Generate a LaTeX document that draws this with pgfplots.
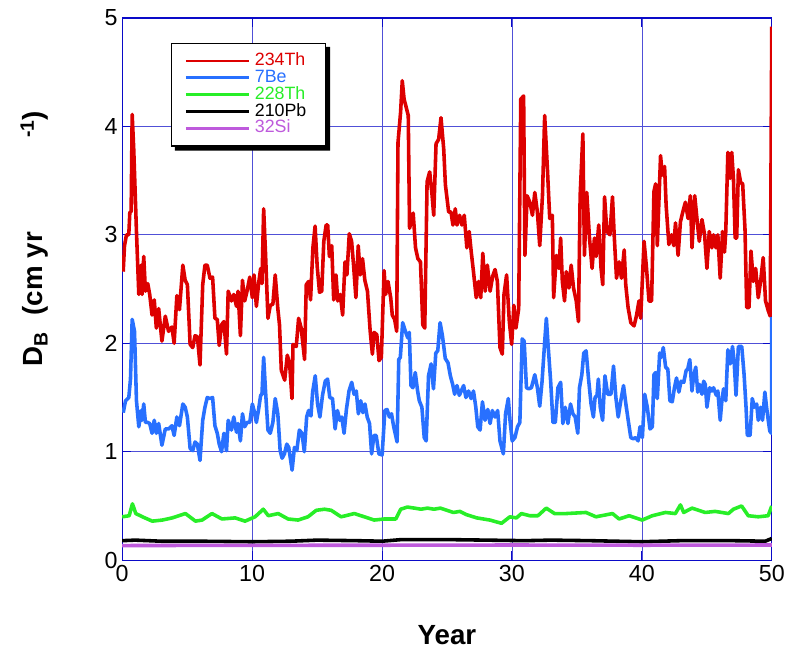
\documentclass[border=0pt]{standalone}
\usepackage{fontspec}
\setmainfont{Liberation Sans}
\usepackage{pgfplots}
\pgfplotsset{compat=1.18}
\usetikzlibrary{calc}

\definecolor{thred}{RGB}{221,0,0}
\definecolor{beblue}{RGB}{40,112,255}
\definecolor{thgreen}{RGB}{40,238,40}
\definecolor{sipurple}{RGB}{190,90,220}
\definecolor{gridblue}{RGB}{80,80,215}
\definecolor{frameblue}{RGB}{10,10,200}

\newcommand{\lgd}[2]{\makebox[56bp][l]{\textcolor{#1}{#2}}}

\begin{document}
\begin{tikzpicture}
\begin{axis}[
    scale only axis,
    width=654bp, height=546bp,
    xmin=0, xmax=50, ymin=0, ymax=5,
    xtick={0,10,20,30,40,50},
    ytick={0,1,2,3,4,5},
    grid=major,
    grid style={gridblue, line width=0.7bp},
    axis line style={frameblue, line width=1.3bp},
    tick style={frameblue, line width=1bp},
    major tick length=9bp,
    tick align=inside,
    /pgf/number format/assume math mode=true,
    ticklabel style={font=\fontsize{23.5}{26}\selectfont},
    xticklabel style={yshift=-2bp},
    yticklabel style={xshift=-1bp},
    xlabel={Year},
    ylabel={D\textsubscript{B}\hspace{0.62em}(cm yr\hspace{3.4em}\textsuperscript{-1})},
    xlabel style={font=\fontsize{28}{30}\selectfont\bfseries, at={(axis description cs:0.5,-0.139)}, anchor=center},
    ylabel style={font=\fontsize{28}{30}\selectfont\bfseries, at={(axis description cs:-0.135,0.356)}, anchor=west, inner sep=0pt},
    legend style={name=lgdbox, at={(axis description cs:0.075,0.954)}, anchor=north west,
        draw=black, line width=1.5bp, fill=white,
        font=\fontsize{18}{18}\selectfont, row sep=0bp, column sep=3bp,
        nodes={inner ysep=0.5bp, text height=12.5bp, text depth=3.5bp},
        inner xsep=13bp, inner ysep=9bp},
    legend cell align=left,
    legend image code/.code={\draw[#1, line width=2.8bp] (0bp,0bp) -- (63bp,0bp);},
    every axis plot/.append style={line width=3.6bp, line join=round},
]

\addplot[thred] coordinates {
(0.08,2.66)(0.18,2.90)(0.33,3.00)(0.51,3.00)(0.59,3.21)(0.69,3.21)(0.77,4.11)(0.89,3.79)
(1.10,3.03)(1.28,2.45)(1.46,2.72)(1.53,2.45)(1.66,2.80)(1.79,2.48)(1.97,2.55)(2.12,2.45)
(2.30,2.26)(2.47,2.40)(2.63,2.14)(2.81,2.32)(3.06,2.02)(3.32,2.25)(3.57,2.11)(3.83,2.15)
(4.00,2.00)(4.21,2.44)(4.41,2.31)(4.67,2.72)(4.85,2.58)(5.02,2.54)(5.23,1.99)(5.43,1.96)
(5.61,2.07)(5.79,2.06)(5.99,1.80)(6.20,2.54)(6.37,2.72)(6.55,2.72)(6.76,2.60)(6.96,2.61)
(7.14,2.23)(7.32,2.22)(7.47,1.98)(7.65,2.17)(7.83,2.20)(8.03,1.90)(8.16,2.48)(8.41,2.39)
(8.59,2.45)(8.80,2.34)(8.92,2.48)(9.10,2.07)(9.26,2.58)(9.43,2.39)(9.61,2.48)(9.82,2.61)
(10.02,2.42)(10.15,2.63)(10.33,2.34)(10.50,2.55)(10.66,2.69)(10.76,2.55)(10.89,3.24)(11.04,2.81)
(11.22,2.23)(11.40,2.35)(11.60,2.36)(11.78,2.63)(11.98,2.32)(12.11,2.17)(12.25,1.75)(12.51,1.66)
(12.71,1.89)(12.89,1.81)(13.07,1.49)(13.15,1.99)(13.40,1.97)(13.58,2.23)(13.78,2.14)(14.04,1.85)
(14.17,2.54)(14.35,2.57)(14.50,2.40)(14.68,2.88)(14.85,3.08)(15.01,2.71)(15.19,2.47)(15.36,2.48)
(15.52,2.94)(15.70,3.09)(15.82,3.09)(15.95,2.80)(16.13,2.90)(16.28,2.40)(16.46,2.63)(16.59,2.39)
(16.79,2.45)(16.97,2.26)(17.15,2.75)(17.30,2.63)(17.48,3.01)(17.66,2.94)(17.81,2.72)(17.99,2.42)
(18.17,2.90)(18.32,2.63)(18.50,2.78)(18.68,2.58)(18.88,2.48)(19.09,2.11)(19.26,1.90)(19.39,2.10)
(19.60,2.08)(19.77,1.84)(19.95,1.87)(20.16,2.67)(20.28,2.45)(20.46,2.57)(20.67,2.42)(20.79,2.26)
(20.97,2.22)(21.13,2.11)(21.23,3.85)(21.43,4.13)(21.56,4.42)(21.70,4.25)(21.81,4.20)(22.02,4.10)
(22.12,3.06)(22.40,3.20)(22.58,2.88)(22.76,2.78)(22.96,2.75)(23.14,2.17)(23.29,2.14)(23.47,3.49)
(23.67,3.58)(23.85,3.37)(23.98,3.18)(24.16,3.84)(24.36,3.88)(24.54,4.08)(24.75,3.79)(24.88,3.46)
(25.13,3.21)(25.31,3.21)(25.46,3.09)(25.64,3.24)(25.77,3.09)(25.97,3.18)(26.15,3.09)(26.33,3.18)
(26.53,2.88)(26.71,3.03)(26.87,2.84)(27.04,2.66)(27.25,2.42)(27.43,2.57)(27.60,2.42)(27.76,2.83)
(27.94,2.48)(28.11,2.72)(28.32,2.48)(28.52,2.62)(28.70,2.68)(28.88,2.57)(29.08,1.96)(29.26,1.90)
(29.39,2.45)(29.59,2.63)(29.80,2.20)(29.98,1.99)(30.15,2.35)(30.31,2.14)(30.52,2.32)(30.68,4.25)
(30.90,4.28)(31.00,2.81)(31.17,3.36)(31.38,3.30)(31.58,3.18)(31.76,3.39)(31.96,3.21)(32.14,2.90)
(32.35,3.36)(32.52,4.10)(32.73,3.61)(32.91,3.15)(33.11,3.18)(33.21,2.42)(33.42,2.81)(33.62,2.69)
(33.75,2.97)(33.88,2.57)(34.05,2.39)(34.18,2.66)(34.39,2.51)(34.56,2.72)(34.74,2.51)(34.95,2.39)
(35.12,2.20)(35.25,3.36)(35.46,3.93)(35.58,2.81)(35.76,3.39)(35.97,2.97)(36.17,2.69)(36.35,2.97)
(36.48,2.80)(36.68,3.09)(36.86,2.69)(36.99,2.54)(37.13,3.35)(37.31,3.03)(37.54,3.00)(37.74,3.35)
(37.87,3.00)(38.05,2.60)(38.25,2.75)(38.43,2.60)(38.64,2.86)(38.76,2.54)(38.94,2.33)(39.15,2.19)
(39.40,2.16)(39.58,2.25)(39.78,2.39)(39.91,2.23)(40.17,2.94)(40.34,2.72)(40.55,2.39)(40.75,2.39)
(40.93,3.40)(41.06,3.47)(41.19,2.90)(41.44,3.73)(41.57,3.55)(41.75,3.63)(41.87,3.27)(42.08,2.91)
(42.28,3.00)(42.46,2.90)(42.59,3.11)(42.79,2.81)(42.97,3.12)(43.15,3.21)(43.35,3.30)(43.56,3.15)
(43.73,3.36)(43.86,2.88)(44.07,3.36)(44.24,3.15)(44.42,2.94)(44.63,3.14)(44.83,3.00)(45.01,2.69)
(45.19,3.03)(45.39,2.88)(45.52,3.00)(45.70,2.88)(45.85,3.00)(46.03,2.60)(46.21,3.03)(46.36,2.84)
(46.46,3.03)(46.62,3.76)(46.79,3.52)(46.92,3.76)(47.05,3.52)(47.18,2.97)(47.30,2.97)(47.43,3.60)
(47.61,3.48)(47.76,3.47)(47.94,3.05)(48.07,2.33)(48.25,2.33)(48.40,2.85)(48.58,2.57)(48.76,2.69)
(48.96,2.42)(49.16,2.59)(49.34,2.79)(49.52,2.39)(49.73,2.30)(49.88,2.25)(50.00,4.92)
};
\addlegendentry{\lgd{thred}{234Th}}

\addplot[beblue] coordinates {
(0.08,1.36)(0.26,1.47)(0.51,1.50)(0.64,1.67)(0.77,2.22)(0.95,2.11)(1.10,1.47)(1.28,1.23)
(1.46,1.38)(1.53,1.29)(1.66,1.44)(1.79,1.27)(1.97,1.27)(2.12,1.26)(2.30,1.17)(2.47,1.29)
(2.63,1.17)(2.81,1.26)(3.06,1.06)(3.32,1.21)(3.57,1.21)(3.83,1.24)(4.00,1.15)(4.21,1.32)
(4.41,1.24)(4.67,1.44)(4.85,1.41)(5.02,1.32)(5.23,1.03)(5.43,1.01)(5.61,1.09)(5.79,1.07)
(5.99,0.92)(6.20,1.29)(6.37,1.41)(6.55,1.50)(6.76,1.49)(6.96,1.50)(7.14,1.24)(7.32,1.17)
(7.47,1.07)(7.65,1.00)(7.83,1.17)(8.03,1.01)(8.16,1.29)(8.41,1.20)(8.59,1.32)(8.80,1.18)
(8.92,1.26)(9.10,1.10)(9.26,1.35)(9.43,1.23)(9.61,1.27)(9.82,1.27)(10.02,1.44)(10.15,1.38)
(10.33,1.27)(10.50,1.39)(10.66,1.52)(10.76,1.53)(10.89,1.87)(11.04,1.55)(11.22,1.20)(11.40,1.17)
(11.60,1.27)(11.78,1.49)(11.98,1.35)(12.16,1.01)(12.31,0.94)(12.49,0.98)(12.67,1.07)(12.82,1.04)
(13.08,0.83)(13.26,1.04)(13.44,1.01)(13.64,1.20)(13.84,1.17)(14.02,1.00)(14.20,1.32)(14.35,1.38)
(14.53,1.33)(14.66,1.55)(14.86,1.70)(15.04,1.44)(15.22,1.32)(15.42,1.52)(15.63,1.65)(15.81,1.67)
(15.98,1.50)(16.19,1.49)(16.39,1.21)(16.57,1.38)(16.75,1.29)(16.90,1.32)(17.08,1.17)(17.26,1.39)
(17.46,1.56)(17.67,1.64)(17.85,1.53)(18.02,1.56)(18.18,1.35)(18.36,1.47)(18.53,1.36)(18.69,1.44)
(18.86,1.32)(19.04,1.26)(19.20,0.98)(19.38,1.15)(19.55,1.15)(19.76,0.98)(20.01,0.97)(20.22,1.38)
(20.39,1.39)(20.57,1.32)(20.73,1.35)(20.90,1.23)(21.16,1.09)(21.29,1.85)(21.41,1.87)(21.59,2.19)
(21.80,2.11)(21.98,2.05)(22.10,2.10)(22.23,1.61)(22.38,1.59)(22.56,1.73)(22.74,1.56)(22.87,1.47)
(23.07,1.41)(23.25,1.13)(23.40,1.10)(23.58,1.70)(23.78,1.81)(23.96,1.58)(24.14,1.91)(24.29,1.93)
(24.47,2.19)(24.65,2.07)(24.87,1.86)(25.08,1.82)(25.26,1.70)(25.44,1.62)(25.59,1.53)(25.77,1.61)
(25.95,1.52)(26.10,1.56)(26.28,1.61)(26.46,1.50)(26.66,1.56)(26.86,1.49)(27.04,1.56)(27.22,1.41)
(27.37,1.23)(27.55,1.20)(27.73,1.46)(27.93,1.29)(28.14,1.39)(28.32,1.26)(28.49,1.38)(28.70,1.32)
(28.90,1.38)(29.08,1.10)(29.34,0.98)(29.51,1.35)(29.72,1.49)(29.85,1.29)(30.02,1.10)(30.23,1.13)
(30.43,1.23)(30.61,1.27)(30.79,2.04)(30.94,2.02)(31.12,1.59)(31.30,1.58)(31.50,1.59)(31.76,1.71)
(31.96,1.59)(32.14,1.42)(32.32,1.65)(32.52,2.01)(32.65,2.23)(32.78,1.99)(32.98,1.65)(33.16,1.27)
(33.34,1.27)(33.54,1.59)(33.75,1.64)(33.92,1.26)(34.10,1.41)(34.31,1.26)(34.51,1.44)(34.69,1.35)
(34.87,1.32)(35.07,1.17)(35.20,1.59)(35.38,1.71)(35.53,1.91)(35.71,1.93)(35.89,1.68)(36.09,1.44)
(36.27,1.32)(36.40,1.50)(36.55,1.52)(36.65,1.67)(36.80,1.41)(36.98,1.29)(37.16,1.70)(37.37,1.53)
(37.62,1.53)(37.82,1.79)(38.00,1.50)(38.18,1.32)(38.38,1.47)(38.59,1.61)(38.77,1.44)(38.95,1.29)
(39.15,1.13)(39.35,1.12)(39.53,1.13)(39.71,1.10)(39.86,1.23)(40.04,1.13)(40.22,1.53)(40.42,1.41)
(40.63,1.21)(40.81,1.23)(40.93,1.71)(41.06,1.73)(41.19,1.49)(41.37,1.91)(41.49,1.87)(41.65,1.96)
(41.83,1.78)(42.00,1.76)(42.16,1.47)(42.34,1.46)(42.51,1.59)(42.67,1.68)(42.85,1.55)(43.02,1.65)
(43.23,1.64)(43.41,1.75)(43.53,1.76)(43.69,1.85)(43.86,1.56)(43.99,1.70)(44.15,1.78)(44.30,1.55)
(44.45,1.62)(44.63,1.53)(44.76,1.65)(44.88,1.62)(45.01,1.41)(45.22,1.59)(45.39,1.56)(45.52,1.59)
(45.73,1.52)(45.85,1.56)(46.03,1.29)(46.16,1.47)(46.29,1.58)(46.46,1.47)(46.62,1.94)(46.80,1.81)
(46.98,1.97)(47.10,1.84)(47.25,1.52)(47.43,1.97)(47.69,1.97)(47.87,1.71)(48.02,1.41)(48.12,1.15)
(48.33,1.15)(48.50,1.49)(48.66,1.41)(48.84,1.44)(48.96,1.29)(49.14,1.41)(49.29,1.29)(49.47,1.55)
(49.60,1.41)(49.73,1.29)(49.85,1.19)(49.98,1.17)(50.00,2.24)
};
\addlegendentry{\lgd{beblue}{7Be}}

\addplot[thgreen] coordinates {
(0,0.40)(0.54,0.41)(0.79,0.52)(1.05,0.43)(1.56,0.40)(2.32,0.36)(3.09,0.37)(3.85,0.39)
(4.87,0.43)(5.64,0.36)(6.15,0.37)(6.91,0.43)(7.68,0.38)(8.70,0.39)(9.46,0.36)(10.23,0.40)
(10.86,0.47)(11.25,0.41)(12.01,0.43)(12.77,0.38)(13.54,0.37)(14.30,0.40)(14.94,0.46)(15.58,0.47)
(16.09,0.46)(16.85,0.40)(17.87,0.43)(18.64,0.40)(19.40,0.37)(20.17,0.38)(21.06,0.38)(21.44,0.47)
(21.95,0.49)(22.50,0.48)(23.00,0.47)(23.50,0.48)(24.00,0.47)(24.50,0.48)(25.00,0.46)(25.50,0.44)
(26.00,0.45)(26.50,0.42)(27.29,0.39)(28.31,0.37)(29.20,0.34)(29.84,0.40)(30.35,0.39)(30.73,0.43)
(31.37,0.41)(32.00,0.41)(32.64,0.48)(33.28,0.43)(34.17,0.43)(35.70,0.44)(36.47,0.40)(37.74,0.43)
(38.25,0.38)(39.02,0.41)(40.03,0.37)(40.80,0.41)(41.82,0.44)(42.58,0.43)(42.97,0.51)(43.22,0.44)
(43.86,0.48)(44.88,0.44)(45.64,0.45)(46.66,0.43)(47.05,0.47)(47.68,0.50)(48.19,0.41)(48.96,0.40)
(49.72,0.41)(49.97,0.49)(50.00,0.50)
};
\addlegendentry{\lgd{thgreen}{228Th}}

\addplot[black] coordinates {
(0,0.18)(1,0.185)(3,0.175)(6,0.175)(10,0.17)(13,0.175)(15,0.185)(18,0.18)(20,0.175)
(21.5,0.19)(25,0.19)(28,0.185)(31,0.18)(33,0.185)(36,0.18)(40,0.17)(43,0.18)(47,0.18)
(49.5,0.175)(50,0.20)
};
\addlegendentry{\lgd{black}{210Pb}}

\addplot[sipurple] coordinates {
(0,0.135)(10,0.137)(20,0.138)(30,0.140)(40,0.138)(50,0.140)
};
\addlegendentry{\lgd{sipurple}{32Si}}

\end{axis}
% shadow of the legend box, only the part that shows to the right and below
\fill[black] ($(lgdbox.north east)+(0,-4bp)$) -- ++(4bp,0) -- ($(lgdbox.south east)+(4bp,-4bp)$)
    -- ($(lgdbox.south west)+(4bp,-4bp)$) -- ++(0,4bp) -- (lgdbox.south east) -- cycle;
\path ($(current axis.south west)+(-123bp,-96bp)$) rectangle ($(current axis.north east)+(11bp,18bp)$);
\end{tikzpicture}
\end{document}
